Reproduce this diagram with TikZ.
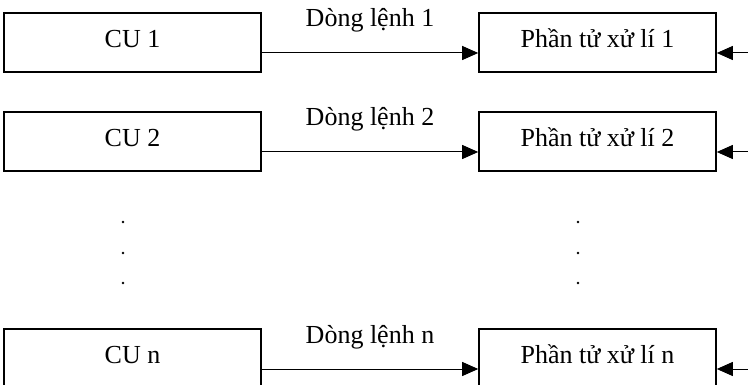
\documentclass[tikz,border=0pt]{standalone}
\usepackage{fontspec}
\setmainfont{Liberation Serif}
\usetikzlibrary{arrows.meta}
\tikzset{
  boxbase/.style={draw, line width=1.6pt, inner sep=0pt, minimum height=59pt,
    text height=12pt, text depth=2pt, font=\fontsize{26}{30}\selectfont},
  cubox/.style={boxbase, minimum width=257pt},
  pebox/.style={boxbase, minimum width=237pt},
  conn/.style={line width=1pt, -{Triangle[length=16pt, width=14pt]}},
  lbl/.style={anchor=base, inner sep=0pt, font=\fontsize{26}{30}\selectfont},
  dotnode/.style={circle, fill, inner sep=0pt, minimum size=2.8pt}
}
\begin{document}
\begin{tikzpicture}[x=1pt,y=-1pt]
\useasboundingbox (0,0) rectangle (748,385);
% row 1
\node[cubox] (cu1) at (132.5,42.5) {CU 1};
\node[pebox] (pe1) at (597.5,42.5) {Phần tử xử lí 1};
\draw[conn] ([yshift=-10.5pt]cu1.east) -- ([yshift=-10.5pt]pe1.west)
  node[lbl, midway, yshift=26pt] (l1) {Dòng lệnh 1};
\coordinate (r1) at (748,53);
\draw[conn] (r1) -- ([yshift=-10.5pt]pe1.east);
% row 2
\node[cubox] (cu2) at (132.5,141.5) {CU 2};
\node[pebox] (pe2) at (597.5,141.5) {Phần tử xử lí 2};
\draw[conn] ([yshift=-10.5pt]cu2.east) -- ([yshift=-10.5pt]pe2.west)
  node[lbl, midway, yshift=26pt] (l2) {Dòng lệnh 2};
\coordinate (r2) at (748,152);
\draw[conn] (r2) -- ([yshift=-10.5pt]pe2.east);
% row n
\node[cubox] (cun) at (132.5,358.5) {CU n};
\node[pebox] (pen) at (597.5,358.5) {Phần tử xử lí n};
\draw[conn] ([yshift=-10.5pt]cun.east) -- ([yshift=-10.5pt]pen.west)
  node[lbl, midway, yshift=26pt] (ln) {Dòng lệnh n};
\coordinate (rn) at (748,369);
\draw[conn] (rn) -- ([yshift=-10.5pt]pen.east);
% dots
\node[dotnode] (dl1) at (123,222) {};
\node[dotnode] (dl2) at (123,253) {};
\node[dotnode] (dl3) at (123,283) {};
\node[dotnode] (dr1) at (578,222) {};
\node[dotnode] (dr2) at (578,253) {};
\node[dotnode] (dr3) at (578,283) {};
\end{tikzpicture}
\end{document}
